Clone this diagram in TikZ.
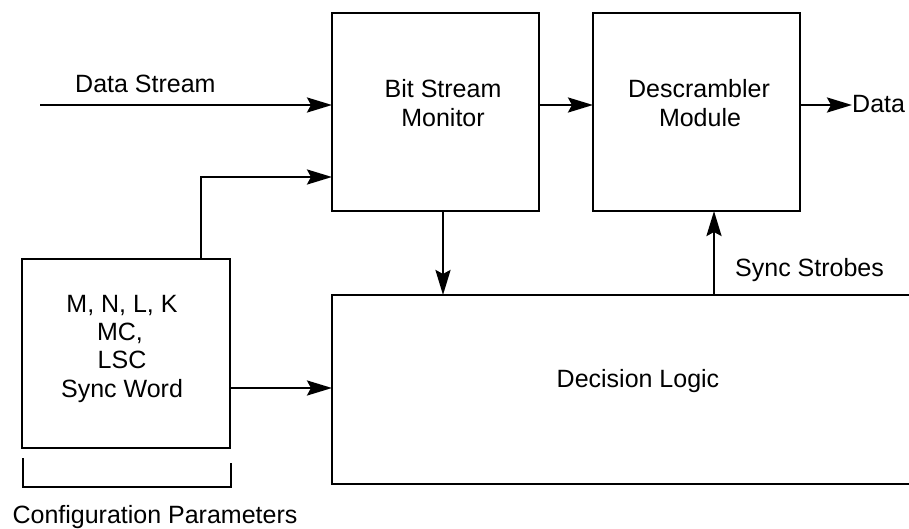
\documentclass[tikz,border=0pt]{standalone}
\usepackage{fontspec}
\setmainfont{Liberation Sans}
\usetikzlibrary{arrows.meta}
\begin{document}
\begin{tikzpicture}[x=1pt,y=-1pt,
  box/.style={draw,line width=2.7pt,inner sep=0pt,outer sep=0pt},
  lbl/.style={inner sep=0pt,anchor=base,font=\fontsize{25}{29}\selectfont},
  lblw/.style={inner sep=0pt,anchor=base west,font=\fontsize{25}{29}\selectfont},
  arr/.style={line width=2.6pt,-{Stealth[length=25pt,width=15pt,inset=4pt]}},
  ln/.style={line width=2.6pt}]
\useasboundingbox (0,0) rectangle (909,529);
% boxes
\node[box,minimum width=207pt,minimum height=198pt] (bsm) at (435.5,112) {};
\node[box,minimum width=207pt,minimum height=198pt] (des) at (696.5,112) {};
\node[box,minimum width=628pt,minimum height=189pt] (dec) at (646,389.5) {};
\node[box,minimum width=208pt,minimum height=189pt] (cfg) at (126,353.5) {};
% texts
\node[lbl] (bsm1) at (443,98) {Bit Stream};
\node[lbl] (bsm2) at (443,127) {Monitor};
\node[lbl] (des1) at (699,98) {Descrambler};
\node[lbl] (des2) at (700,127) {Module};
\node[lbl] (dect) at (638,387) {Decision Logic};
\node[lbl] (cf1) at (122,312) {M, N, L, K};
\node[lbl] (cf2) at (120,340) {MC,};
\node[lbl] (cf3) at (122,368) {LSC};
\node[lbl] (cf4) at (122,397) {Sync Word};
\node[lbl] (cpar) at (155,523) {Configuration Parameters};
\node[lblw] (dst) at (75,93) {Data Stream};
\node[lblw] (sst) at (735,276) {Sync Strobes};
\node[lblw] (dout) at (852,113) {Data};
% coordinates
\coordinate (dsin) at (40,105);
\coordinate (cfgup) at (201,177);
\coordinate (cfgdec) at (230,388);
\coordinate (bsmdown) at (443,211);
\coordinate (syncup) at (714,295);
\coordinate (bl) at (23,458);
\coordinate (br) at (231,463);
% connectors
\draw[arr] (dsin) -- (dsin -| bsm.west);
\draw[arr] (cfg.north -| cfgup) -- (cfgup) -- (cfgup -| bsm.west);
\draw[arr] (cfgdec) -- (cfgdec -| dec.west);
\draw[arr] (bsm.east |- dsin) -- (des.west |- dsin);
\draw[arr] (des.east |- dsin) -- (dout.west |- dsin);
\draw[arr] (bsmdown) -- (bsmdown |- dec.north);
\draw[arr] (syncup) -- (syncup |- des.south);
% bracket
\draw[ln] (bl) -- (23,487) -- (231,487) -- (br);
\end{tikzpicture}
\end{document}
